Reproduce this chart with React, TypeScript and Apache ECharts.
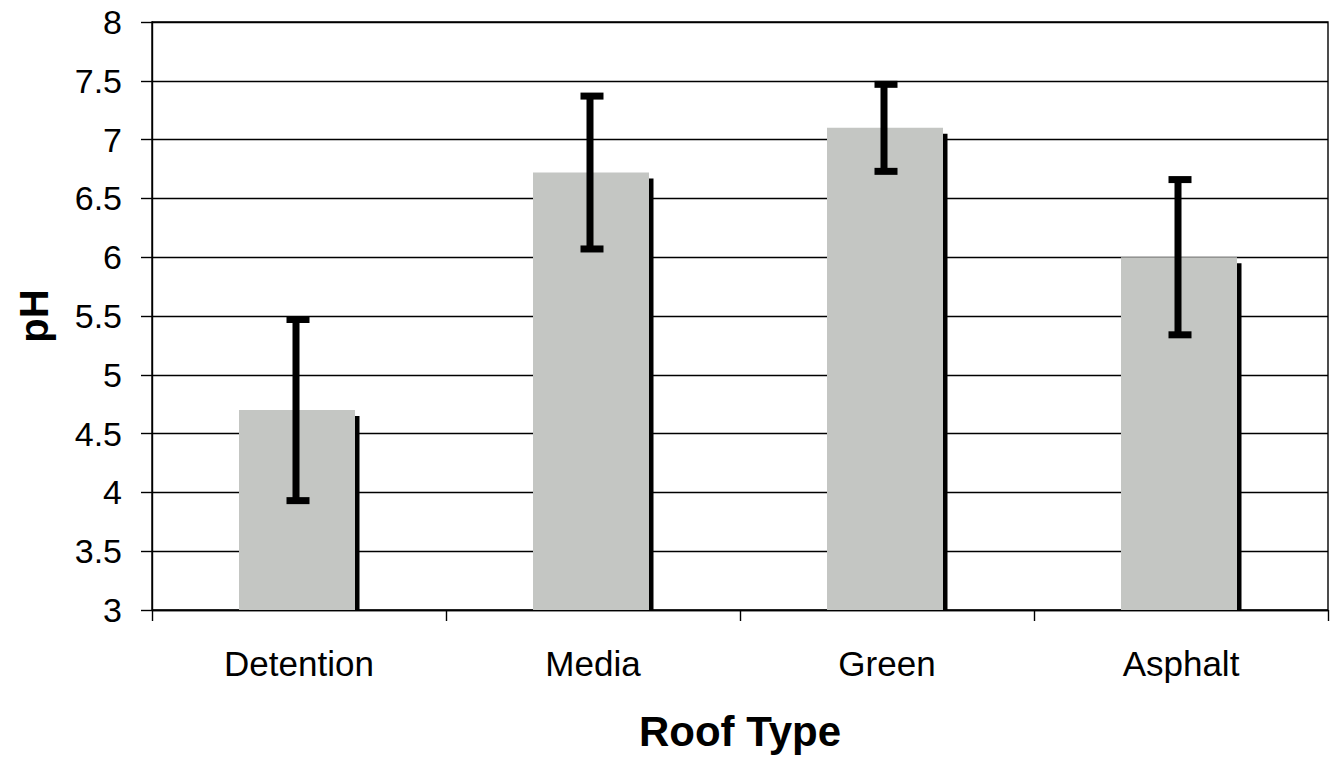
import React, { useEffect, useRef } from "react";
import * as echarts from "echarts";

const categories = ["Detention", "Media", "Green", "Asphalt"];
const means = [4.7, 6.72, 7.1, 6.0];
const errors = [0.77, 0.65, 0.37, 0.66];
const yTicks = { min: 3, max: 8, interval: 0.5 };

const FONT = "'Liberation Sans', Arial, sans-serif";

export default function App() {
  const ref = useRef<HTMLDivElement>(null);
  useEffect(() => {
    if (!ref.current) return;
    const chart = echarts.init(ref.current, null, { renderer: "svg" });
    const data = categories.map((c, i) => [i, means[i], means[i] - errors[i], means[i] + errors[i]]);
    chart.setOption({
      animation: false,
      backgroundColor: "#ffffff",
      grid: {
        left: 152,
        right: 3,
        top: 22,
        bottom: 144,
        show: true,
        borderColor: "#000",
        borderWidth: 1.4,
      },
      xAxis: {
        type: "category",
        data: categories,
        boundaryGap: true,
        axisLine: { lineStyle: { color: "#000", width: 1.4 } },
        axisTick: { show: true, interval: 0, length: 11, lineStyle: { color: "#000", width: 1.4 } },
        axisLabel: { color: "#000", fontSize: 35, fontFamily: FONT, margin: 36, interval: 0 },
        name: "Roof Type",
        nameLocation: "middle",
        nameGap: 100,
        nameTextStyle: { color: "#000", fontSize: 42, fontWeight: "bold", fontFamily: FONT },
        splitLine: { show: false },
      },
      yAxis: {
        type: "value",
        min: yTicks.min,
        max: yTicks.max,
        interval: yTicks.interval,
        axisLine: { show: true, lineStyle: { color: "#000", width: 1.4 } },
        axisTick: { show: true, length: 11, lineStyle: { color: "#000", width: 1.4 } },
        axisLabel: { color: "#000", fontSize: 34, fontFamily: FONT, margin: 30 },
        splitLine: { show: true, lineStyle: { color: "#000", width: 1.4 } },
        name: "pH",
        nameLocation: "middle",
        nameGap: 98,
        nameTextStyle: { color: "#000", fontSize: 40, fontWeight: "bold", fontFamily: FONT },
      },
      series: [
        {
          type: "custom",
          data,
          encode: { x: 0, y: 1 },
          renderItem: (params: any, api: any) => {
            const idx = api.value(0);
            const m = api.value(1);
            const lo = api.value(2);
            const hi = api.value(3);
            const top = api.coord([idx, m]);
            const base = api.coord([idx, yTicks.min]);
            const hiP = api.coord([idx, hi]);
            const loP = api.coord([idx, lo]);
            const cx = top[0];
            return {
              type: "group",
              children: [
                {
                  type: "rect",
                  shape: { x: cx - 60, y: top[1], width: 116, height: base[1] - top[1] },
                  style: { fill: "#c4c6c3" },
                },
                {
                  type: "rect",
                  shape: { x: cx + 56, y: top[1] + 6, width: 4.5, height: base[1] - top[1] - 6 },
                  style: { fill: "#000" },
                },
                {
                  type: "rect",
                  shape: { x: cx - 6.5, y: hiP[1], width: 7, height: loP[1] - hiP[1] },
                  style: { fill: "#000" },
                },
                {
                  type: "rect",
                  shape: { x: cx - 12.5, y: hiP[1] - 3.5, width: 23, height: 7 },
                  style: { fill: "#000" },
                },
                {
                  type: "rect",
                  shape: { x: cx - 12.5, y: loP[1] - 3.5, width: 23, height: 7 },
                  style: { fill: "#000" },
                },
              ],
            };
          },
        },
      ],
    });
    return () => chart.dispose();
  }, []);
  return <div ref={ref} style={{ width: 1331, height: 757, position: "absolute", left: 0, top: 0 }} />;
}
